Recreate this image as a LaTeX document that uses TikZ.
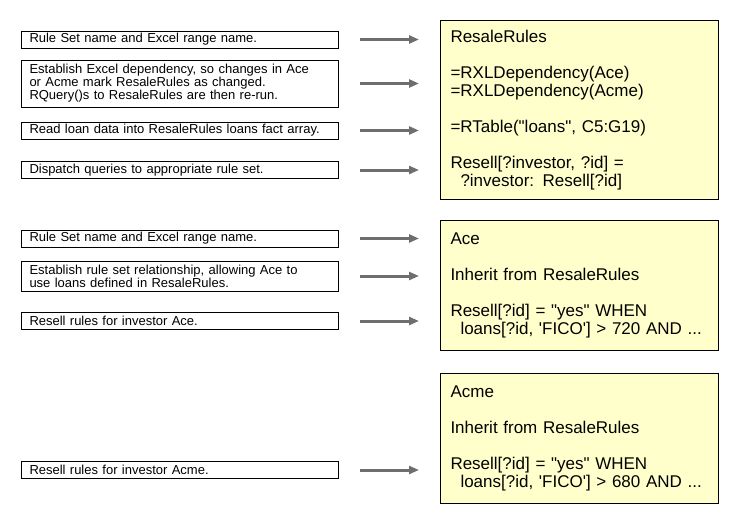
\documentclass[tikz,border=0pt]{standalone}
\usepackage{fontspec}
\setmainfont{Liberation Sans}[Ligatures=TeXOff]
\usetikzlibrary{arrows.meta}
\definecolor{yellowfill}{HTML}{FFFFCC}
\definecolor{arrowgray}{HTML}{6E6E6E}
\newcommand\myNoteFont{\fontsize{13}{13}\selectfont}
\begin{document}
\begin{tikzpicture}[x=1pt,y=-1pt,
  note/.style={draw=black, line width=1pt, anchor=west, text width=301pt, inner xsep=8pt, inner ysep=0pt, align=left, font=\myNoteFont, execute at begin node={\hyphenpenalty=10000\relax}},
  ruleset/.style={draw=black, fill=yellowfill, line width=1pt, anchor=north west, text width=258pt, inner xsep=10pt, inner ysep=0pt, align=left, font=\fontsize{17}{18}\selectfont},
  conn/.style={draw=arrowgray, line width=3pt, -{Triangle[length=10pt,width=8pt]}, shorten <=21pt, shorten >=21pt}]
\useasboundingbox (0,0) rectangle (740,520);

% rule set boxes
\node[ruleset, minimum height=179pt] (r1) at (440,20) {ResaleRules\\[18pt]
=RXLDependency(Ace)\\
=RXLDependency(Acme)\\[18pt]
=RTable("loans", C5:G19)\\[18pt]
Resell[?investor, ?id] =\\
\hspace*{10pt}?investor: Resell[?id]};

\node[ruleset, minimum height=130pt] (r2) at (440,220) {Ace\\[18pt]
Inherit from ResaleRules\\[18pt]
Resell[?id] = "yes" WHEN\\
\hspace*{10pt}loans[?id, 'FICO'] > 720 AND ...};

\node[ruleset, minimum height=130pt] (r3) at (440,373) {Acme\\[18pt]
Inherit from ResaleRules\\[18pt]
Resell[?id] = "yes" WHEN\\
\hspace*{10pt}loans[?id, 'FICO'] > 680 AND ...};

% explanation boxes
\node[note, minimum height=17pt] (l1) at (21,39.5) {Rule Set name and Excel range name.};
\node[note, minimum height=47pt] (l2) at (21,83.5) {Establish Excel dependency, so changes in Ace\\or Acme mark ResaleRules as changed.\\RQuery()s to ResaleRules are then re-run.};
\node[note, minimum height=17pt] (l3) at (21,130.5) {Read loan data into ResaleRules loans fact array.};
\node[note, minimum height=17pt] (l4) at (21,170) {Dispatch queries to appropriate rule set.};

\node[note, minimum height=17pt] (l5) at (21,238.5) {Rule Set name and Excel range name.};
\node[note, minimum height=30pt] (l6) at (21,276) {Establish rule set relationship, allowing Ace to\\use loans defined in ResaleRules.};
\node[note, minimum height=17pt] (l7) at (21,321) {Resell rules for investor Ace.};

\node[note, minimum height=17pt] (l8) at (21,470) {Resell rules for investor Acme.};

% connectors
\draw[conn] (l1.east) -- (l1.east -| r1.west);
\draw[conn] (l2.east) -- (l2.east -| r1.west);
\draw[conn] (l3.east) -- (l3.east -| r1.west);
\draw[conn] (l4.east) -- (l4.east -| r1.west);
\draw[conn] (l5.east) -- (l5.east -| r2.west);
\draw[conn] (l6.east) -- (l6.east -| r2.west);
\draw[conn] (l7.east) -- (l7.east -| r2.west);
\draw[conn] (l8.east) -- (l8.east -| r3.west);
\end{tikzpicture}
\end{document}
